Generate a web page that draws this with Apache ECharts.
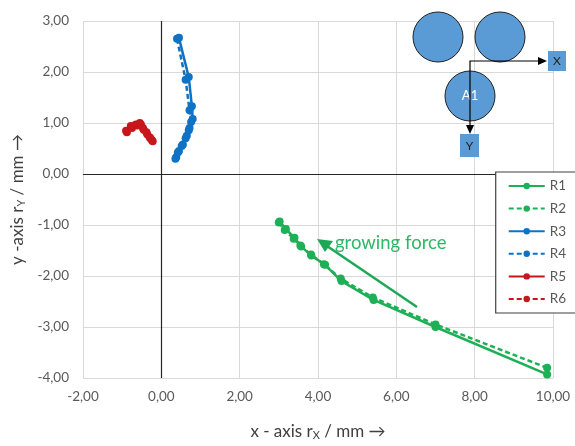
<!DOCTYPE html>
<html><head><meta charset="utf-8">
<script src="https://cdn.jsdelivr.net/npm/echarts@6/dist/echarts.min.js"></script>
<style>html,body{margin:0;padding:0;background:#fff}#c{width:575px;height:446px}</style>
</head><body><div id="c"></div>
<script>
const xTicks = [-2, 0, 2, 4, 6, 8, 10];
const yTicks = [-4, -3, -2, -1, 0, 1, 2, 3];
const seriesNames = ['R1', 'R2', 'R3', 'R4', 'R5', 'R6'];
const r1x = [3.02, 3.18, 3.40, 3.57, 3.83, 4.18, 4.60, 5.42, 7.00, 9.85];
const r1y = [-0.93, -1.08, -1.25, -1.42, -1.60, -1.78, -2.10, -2.47, -3.00, -3.93];
const r2x = [3.00, 3.15, 3.38, 3.55, 3.82, 4.15, 4.58, 5.40, 7.00, 9.85];
const r2y = [-0.95, -1.10, -1.27, -1.40, -1.58, -1.77, -2.05, -2.42, -2.95, -3.80];
const r3x = [0.45, 0.70, 0.78, 0.80, 0.72, 0.65, 0.55, 0.45, 0.38];
const r3y = [2.67, 1.90, 1.33, 1.08, 0.90, 0.75, 0.58, 0.45, 0.33];
const r4x = [0.40, 0.62, 0.72, 0.76, 0.70, 0.62, 0.52, 0.42, 0.36];
const r4y = [2.65, 1.85, 1.25, 1.02, 0.86, 0.70, 0.55, 0.42, 0.30];
const r5x = [-0.90, -0.78, -0.65, -0.55, -0.47, -0.38, -0.30, -0.24];
const r5y = [0.85, 0.94, 0.97, 1.00, 0.90, 0.82, 0.72, 0.66];
const r6x = [-0.88, -0.75, -0.62, -0.52, -0.45, -0.36, -0.28, -0.22];
const r6y = [0.82, 0.90, 0.95, 0.97, 0.87, 0.78, 0.70, 0.64];

const GREEN = '#1DB056', BLUE = '#0F72C4', RED = '#C8161D';
const FONT = 'Lato';
const zip = (xs, ys) => xs.map((x, i) => [x, ys[i]]);
const fmt = v => v.toFixed(2).replace('.', ',');

function mk(name, xs, ys, color, dashed, extra) {
  return Object.assign({
    name, type: 'line', data: zip(xs, ys), symbol: 'circle', symbolSize: 8,
    color, lineStyle: { color, width: 2.5, type: dashed ? [5, 3] : 'solid' },
    itemStyle: { color }, z: 3, animation: false
  }, extra || {});
}

const chart = echarts.init(document.getElementById('c'), null, { renderer: 'canvas' });
chart.setOption({
  animation: false,
  textStyle: { fontFamily: FONT },
  grid: { left: 83, right: 22, top: 21, bottom: 61 },
  xAxis: {
    type: 'value', min: xTicks[0], max: xTicks[xTicks.length - 1], interval: 2,
    axisLine: { show: false }, axisTick: { show: false },
    axisLabel: { formatter: fmt, color: '#595959', fontSize: 13.5, fontFamily: FONT, margin: 12 },
    splitLine: { lineStyle: { color: '#d9d9d9', width: 1 } },
    name: '{a|x - axis r}{s|X}{a| / mm →}', nameLocation: 'middle', nameGap: 44,
    nameTextStyle: { rich: {
      a: { fontSize: 17, color: '#404040', fontFamily: FONT },
      s: { fontSize: 11, color: '#404040', fontFamily: FONT, verticalAlign: 'bottom', padding: [8, 0, 0, 0] }
    } }
  },
  yAxis: {
    type: 'value', min: yTicks[0], max: yTicks[yTicks.length - 1], interval: 1,
    axisLine: { show: false }, axisTick: { show: false },
    axisLabel: { formatter: fmt, color: '#595959', fontSize: 13.5, fontFamily: FONT, margin: 14 },
    splitLine: { lineStyle: { color: '#d9d9d9', width: 1 } },
    name: '{a|y -axis r}{s|Y}{a| / mm →}', nameLocation: 'middle', nameGap: 52, nameRotate: 90,
    nameTextStyle: { rich: {
      a: { fontSize: 17, color: '#404040', fontFamily: FONT },
      s: { fontSize: 11, color: '#404040', fontFamily: FONT, verticalAlign: 'bottom', padding: [8, 0, 0, 0] }
    } }
  },
  legend: {
    orient: 'vertical', right: -5, top: 172, data: seriesNames,
    itemWidth: 36, itemHeight: 8, itemGap: 8.6,
    backgroundColor: '#fff', borderColor: '#404040', borderWidth: 1.2,
    padding: [7, 14, 7, 12],
    textStyle: { color: '#595959', fontSize: 13.5, fontFamily: FONT }
  },
  series: [
    mk('R1', r1x, r1y, GREEN, false, {
      markLine: {
        silent: true, symbol: 'none', label: { show: false },
        lineStyle: { color: '#262626', width: 1.2, type: 'solid' },
        data: [{ xAxis: 0 }, { yAxis: 0 }], z: 1
      }
    }),
    mk('R2', r2x, r2y, GREEN, true),
    mk('R3', r3x, r3y, BLUE, false),
    mk('R4', r4x, r4y, BLUE, true),
    mk('R5', r5x, r5y, RED, false),
    mk('R6', r6x, r6y, RED, true)
  ],
  graphic: [
    { type: 'circle', shape: { cx: 438, cy: 37, r: 25 }, style: { fill: '#5B9BD5', stroke: '#1f1f1f', lineWidth: 1 }, z: 10 },
    { type: 'circle', shape: { cx: 500, cy: 37, r: 25 }, style: { fill: '#5B9BD5', stroke: '#1f1f1f', lineWidth: 1 }, z: 10 },
    { type: 'circle', shape: { cx: 470, cy: 96, r: 25 }, style: { fill: '#5B9BD5', stroke: '#1f1f1f', lineWidth: 1 }, z: 10 },
    { type: 'text', x: 470, y: 96, style: { text: 'A1', fill: '#fff', font: '13px ' + FONT, textAlign: 'center', textVerticalAlign: 'middle' }, z: 11 },
    { type: 'polyline', shape: { points: [[540, 61], [470, 61], [470, 128]] }, style: { stroke: '#000', lineWidth: 1.2, fill: null }, z: 12 },
    { type: 'polygon', shape: { points: [[547, 61], [538, 57], [538, 65]] }, style: { fill: '#000' }, z: 12 },
    { type: 'polygon', shape: { points: [[470, 134], [466, 125], [474, 125]] }, style: { fill: '#000' }, z: 12 },
    { type: 'rect', shape: { x: 548, y: 51, width: 18, height: 20 }, style: { fill: '#5B9BD5' }, z: 10 },
    { type: 'text', x: 557, y: 61, style: { text: 'X', fill: '#1f1f1f', font: '12px ' + FONT, textAlign: 'center', textVerticalAlign: 'middle' }, z: 11 },
    { type: 'rect', shape: { x: 460, y: 134, width: 19, height: 23 }, style: { fill: '#5B9BD5' }, z: 10 },
    { type: 'text', x: 469.5, y: 146, style: { text: 'Y', fill: '#1f1f1f', font: '12px ' + FONT, textAlign: 'center', textVerticalAlign: 'middle' }, z: 11 },
    { type: 'line', shape: { x1: 417, y1: 307, x2: 324, y2: 244 }, style: { stroke: '#1DA757', lineWidth: 2.5 }, z: 10 },
    { type: 'polygon', shape: { points: [[317, 239], [333, 241], [325, 252]] }, style: { fill: '#1DA757' }, z: 10 },
    { type: 'text', x: 335, y: 243, style: { text: 'growing force', fill: '#2DB865', font: '18.5px ' + FONT, textVerticalAlign: 'middle' }, z: 10 }
  ]
});
</script></body></html>
